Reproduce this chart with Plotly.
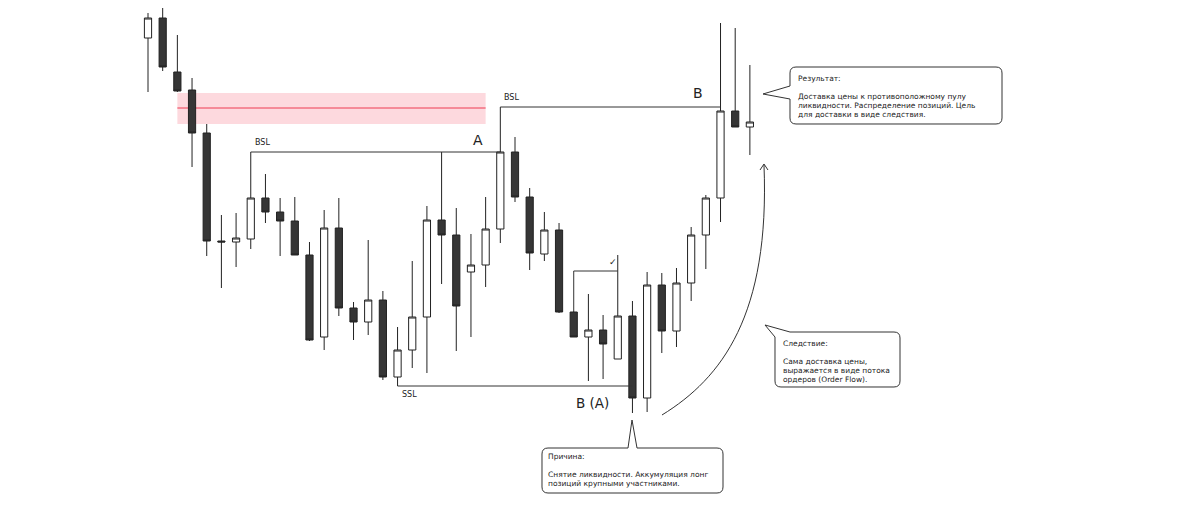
import plotly.graph_objects as go

W, H = 1184, 513
OFF = 8   # the page puts the plot 8px in from the top-left corner

# candles, left to right (price units, bottom of picture = 0)
opens = [475, 495, 441, 423, 380, 272, 271, 274, 315, 301, 292, 258, 176, 285,
         205, 191, 213, 136, 163, 196, 293, 278, 241, 248, 284, 361, 316, 259,
         283, 201, 176, 183, 154, 197, 115, 228, 182, 230, 278, 315, 402, 386]
highs = [500, 508, 478, 435, 389, 298, 300, 361, 339, 315, 316, 271, 303, 315,
         211, 273, 222, 186, 252, 307, 361, 305, 279, 316, 406, 376, 325, 301,
         290, 202, 219, 198, 258, 212, 241, 240, 245, 286, 318, 490, 485, 448]
lows = [421, 442, 421, 346, 257, 225, 246, 264, 290, 257, 258, 172, 163, 197,
        173, 178, 133, 127, 145, 140, 229, 162, 176, 226, 270, 311, 243, 252,
        200, 176, 132, 134, 154, 100, 101, 160, 166, 212, 244, 291, 386, 358]
closes = [495, 446, 422, 380, 272, 271, 275, 315, 301, 292, 258, 173, 285, 205,
          191, 213, 136, 163, 196, 293, 278, 207, 248, 284, 361, 316, 260, 283,
          201, 176, 183, 169, 197, 115, 228, 182, 230, 278, 315, 402, 386, 391]
bars = list(range(len(opens)))

# liquidity levels
bsl_low = (7, 24)      # from bar, to bar
ssl_low = (17, 33)
bsl_high = (24, 39)
zone = (2, 23, 389, 420, 405)   # bar from, bar to, bottom, top, middle line
check = (29, 32, 242)

# callout texts
result_lines = ["Результат:", "", "Доставка цены к противоположному пулу",
                "ликвидности. Распределение позиций. Цель",
                "для доставки в виде следствия."]
effect_lines = ["Следствие:", "", "Сама доставка цены,",
                "выражается в виде потока", "ордеров (Order Flow)."]
cause_lines = ["Причина:", "", "Снятие ликвидности. Аккумуляция лонг",
               "позиций крупными участниками."]

FONT = "DejaVu Sans"
INK = "#222222"

step = 14.68
x_left = 148 - OFF


def px(x, y):
    return f"{(x - OFF) / W:.5f},{1 - (y - OFF) / H:.5f}"


def callout(x0, y0, x1, y1, r=6, top=None, left=None, corner=None):
    # rounded box with a pointer, page pixel coords -> paper path
    if corner:
        cx, cy, tip = corner
        d = f"M{px(cx, y0)}"
    else:
        d = f"M{px(x0 + r, y0)}"
    if top:
        a, b, tip_t = top
        d += f" L{px(a, y0)} L{px(*tip_t)} L{px(b, y0)}"
    d += f" L{px(x1 - r, y0)} Q{px(x1, y0)} {px(x1, y0 + r)}"
    d += f" L{px(x1, y1 - r)} Q{px(x1, y1)} {px(x1 - r, y1)}"
    d += f" L{px(x0 + r, y1)} Q{px(x0, y1)} {px(x0, y1 - r)}"
    if left:
        a, b, tip_l = left
        d += f" L{px(x0, b)} L{px(*tip_l)} L{px(x0, a)}"
    if corner:
        d += f" L{px(x0, cy)} L{px(*tip)} Z"
    else:
        d += f" L{px(x0, y0 + r)} Q{px(x0, y0)} {px(x0 + r, y0)} Z"
    return dict(type="path", xref="paper", yref="paper", path=d,
                line=dict(color="#333333", width=1), fillcolor="white")


fig = go.Figure(go.Candlestick(
    x=bars, open=opens, high=highs, low=lows, close=closes,
    increasing=dict(fillcolor="white", line=dict(color=INK, width=1)),
    decreasing=dict(fillcolor="#363636", line=dict(color=INK, width=1)),
    whiskerwidth=0, hoverinfo="skip", showlegend=False,
))

shapes = []
# red zone
shapes.append(dict(type="rect", xref="x", yref="y", x0=zone[0], x1=zone[1],
                   y0=zone[2], y1=zone[3], fillcolor="rgba(250,160,172,0.4)",
                   line=dict(width=0), layer="below"))
shapes.append(dict(type="line", xref="x", yref="y", x0=zone[0], x1=zone[1],
                   y0=zone[4], y1=zone[4], line=dict(color="#ee3a52", width=1),
                   layer="below"))

# BSL / SSL lines
line_style = dict(color="#333333", width=1)
lvl = highs[bsl_low[0]]
shapes.append(dict(type="line", xref="x", yref="y", x0=bsl_low[0], x1=bsl_low[1],
                   y0=lvl, y1=lvl, line=line_style))
lvl2 = highs[bsl_high[0]]
shapes.append(dict(type="line", xref="x", yref="y", x0=bsl_high[0], x1=bsl_high[1],
                   y0=lvl2, y1=lvl2, line=line_style))
lvl3 = lows[ssl_low[0]]
shapes.append(dict(type="line", xref="x", yref="y", x0=ssl_low[0], x1=ssl_low[1],
                   y0=lvl3, y1=lvl3, line=line_style))
# check bracket
shapes.append(dict(type="path", xref="x", yref="y",
                   path=f"M{check[0]},{highs[check[0]]} L{check[0]},{check[2]} "
                        f"L{check[1]},{check[2]}",
                   line=line_style))

# callouts
shapes.append(callout(790, 67, 1002, 124, left=(86, 99, (763, 94))))
shapes.append(callout(775, 332, 900, 387, corner=(790, 337, (765, 325))))
shapes.append(callout(542, 448, 723, 493, top=(628, 637, (632, 420))))

# curved arrow
shapes.append(dict(type="path", xref="paper", yref="paper",
                   path=f"M{px(662, 415)} C{px(722, 378)} {px(770, 315)} {px(764, 165)}",
                   line=dict(color="#333333", width=1)))
shapes.append(dict(type="path", xref="paper", yref="paper",
                   path=f"M{px(760, 170)} L{px(764, 164)} L{px(768, 170)}",
                   line=dict(color="#333333", width=1)))

annotations = []


def label(text, x, y, size, xanchor="center", yanchor="middle", ref="data"):
    a = dict(text=text, x=x, y=y, showarrow=False, xanchor=xanchor,
             yanchor=yanchor, font=dict(family=FONT, size=size, color=INK))
    if ref == "paper":
        a.update(xref="paper", yref="paper")
    annotations.append(a)


label("BSL", bsl_low[0] + 0.15, lvl + 3, 8, xanchor="left", yanchor="bottom")
label("BSL", bsl_high[0] + 0.1, lvl2 + 3, 8, xanchor="left", yanchor="bottom")
label("SSL", ssl_low[0] + 0.15, lvl3 - 2, 8, xanchor="left", yanchor="top")
label("A", 22.5, 373, 14)
label("B", 37.47, 420, 14)
label("B (A)", 30.3, 110, 13.5)
label("✓", 31.65, 251, 9)

for lines, x0, y0 in [(result_lines, 796, 78), (effect_lines, 781, 343),
                      (cause_lines, 546, 456)]:
    for i, t in enumerate(lines):
        if t:
            label(t, (x0 - OFF) / W, 1 - (y0 - OFF + i * 9.2) / H, 7.5,
                  xanchor="left", ref="paper")

fig.update_layout(
    width=W, height=H,
    margin=dict(l=0, r=0, t=0, b=0, pad=0),
    paper_bgcolor="white", plot_bgcolor="white",
    xaxis=dict(range=[-x_left / step, (W - x_left) / step], visible=False,
               rangeslider=dict(visible=False), fixedrange=True),
    yaxis=dict(range=[-OFF, H - OFF], visible=False, fixedrange=True),
    shapes=shapes, annotations=annotations,
    showlegend=False,
)

fig.write_html("out.html")
